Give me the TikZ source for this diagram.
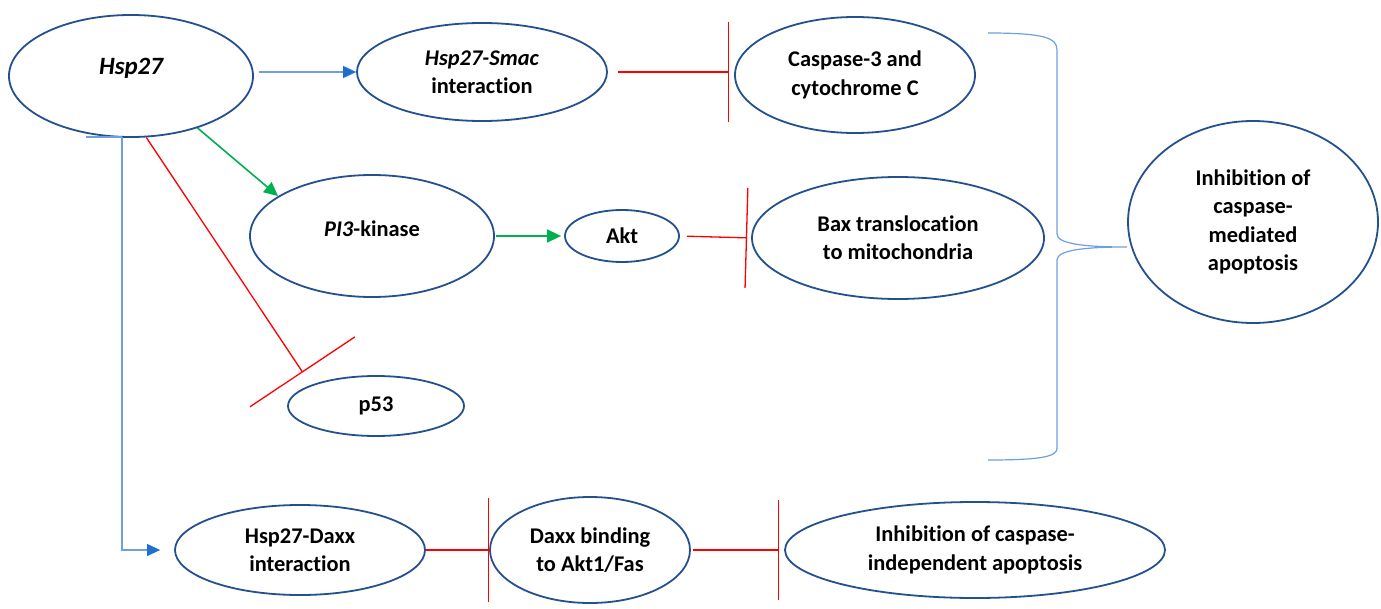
\documentclass[tikz,border=0pt]{standalone}
\usepackage{fontspec}
\setmainfont{Carlito}[Ligatures=NoCommon]
\usetikzlibrary{arrows.meta,shapes.geometric}
\definecolor{ellblue}{HTML}{24508F}
\definecolor{lnblue}{HTML}{6F9FE0}
\definecolor{tipblue}{HTML}{1F6FD0}
\definecolor{grn}{HTML}{00B050}
\definecolor{rd}{HTML}{FF0000}
\begin{document}
\begin{tikzpicture}[x=1bp,y=-1bp,
 ell/.style={ellipse, draw=ellblue, line width=1.8bp, inner sep=0pt, align=center, font=\fontsize{22.5}{28.5}\selectfont\bfseries},
 act/.style={draw=lnblue, line width=1.2bp, -{Triangle[length=13bp,width=12bp,color=tipblue]}},
 bline/.style={draw=lnblue, line width=1.2bp},
 gact/.style={draw=grn, line width=1.6bp, -{Triangle[length=14bp,width=13bp]}},
 inh/.style={draw=rd, line width=1.3bp, -{Bar[width=#1, line width=1.3bp]}},
]
\useasboundingbox (0,0) rectangle (1381,609);

\node[ell, minimum width=244bp, minimum height=122bp, text depth=20bp, font=\fontsize{25}{30}\selectfont\bfseries] (hsp) at (131,76) {\itshape Hsp27};
\node[ell, minimum width=250bp, minimum height=98bp] (smac) at (482,72) {\textit{Hsp27-Smac}\\interaction};
\node[ell, minimum width=240bp, minimum height=116bp] (casp) at (855,75) {Caspase-3 and\\cytochrome C};
\node[ell, minimum width=244bp, minimum height=122bp, text depth=14bp] (pi3) at (372,236) {\textit{PI3}-kinase};
\node[ell, minimum width=114bp, minimum height=52bp] (akt) at (622,236) {Akt};
\node[ell, minimum width=292bp, minimum height=122bp] (bax) at (898,238) {Bax translocation\\to mitochondria};
\node[ell, minimum width=176bp, minimum height=60bp] (p53) at (376,406) {p53};
\node[ell, minimum width=250bp, minimum height=202bp] (inhm) at (1253,222) {Inhibition of\\caspase-\\mediated\\apoptosis};
\node[ell, minimum width=250bp, minimum height=90bp] (daxx) at (300,550) {Hsp27-Daxx\\interaction};
\node[ell, minimum width=200bp, minimum height=106bp] (dbind) at (590,550) {Daxx binding\\to Akt1/Fas};
\node[ell, minimum width=380bp, minimum height=96bp] (indep) at (975,550) {Inhibition of caspase-\\independent apoptosis};

\draw[act, shorten <=5bp] (hsp.east |- smac.west) -- (smac.west);
\draw[inh=100bp, shorten <=10bp, shorten >=5bp] (smac.east) -- (casp.west |- smac.east);
\draw[gact] (hsp.-38) -- (pi3.157);
\draw[gact, shorten <=1bp, shorten >=3bp] (pi3.east) -- (akt.west);
\draw[inh=100bp, shorten <=7bp, shorten >=4bp] (akt.east) -- (bax.west);
\draw[inh=126bp, shorten >=15bp] (hsp.-76) -- (p53.162);

\coordinate (stub) at (86,137);
\coordinate (elb) at (122,137);
\draw[bline] (stub) -- (elb);
\draw[act, shorten >=14bp] (elb) -- (elb |- daxx.west) -- (daxx.west);
\draw[inh=104bp] (daxx.east) -- (dbind.west);
\draw[inh=100bp, shorten <=2bp, shorten >=5bp] (dbind.east) -- (indep.west);

\coordinate (btip) at (1127,247);
\draw[bline] (988,33) .. controls (1045,33) and (1057,38) .. (1057,50) -- (1057,234) .. controls (1057,244) and (1085,247) .. (btip) .. controls (1085,247) and (1057,250) .. (1057,260) -- (1057,448) .. controls (1057,456) and (1045,460) .. (988,460);
\end{tikzpicture}
\end{document}
